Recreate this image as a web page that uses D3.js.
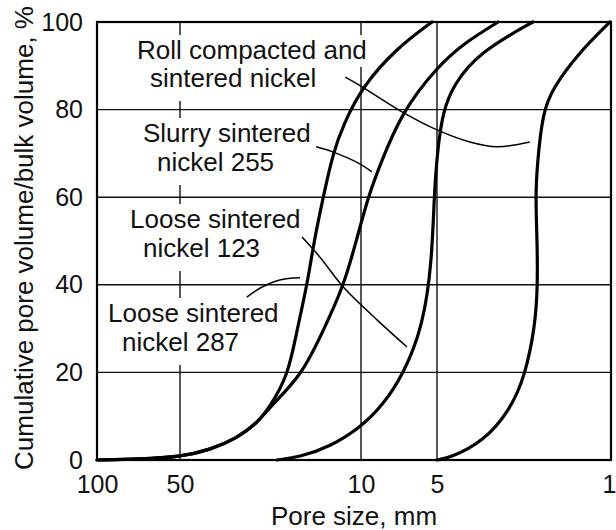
<!DOCTYPE html>
<html lang="en">
<head>
<meta charset="UTF-8">
<title>Cumulative pore volume</title>
<script src="https://d3js.org/d3.v7.min.js"></script>
<style>
  body { margin: 0; background: #fff; }
  svg text { font-family: "Liberation Sans", Arial, Helvetica, sans-serif; fill: #111; }
</style>
</head>
<body>
<script>
// tick values
const xTicks = [100, 50, 10, 5, 1];
const yTicks = [0, 20, 40, 60, 80, 100];

// curves: pore size (mm) and cumulative volume (%)
const loose287Size = [100, 69.8, 50, 38.3, 30.1, 25.2, 22.5, 19.1, 17.7, 16.2, 15.2, 14.0, 12.8, 11.7, 9.91, 7.20, 5.23];
const loose287Vol  = [0, 0.2, 0.7, 2.3, 5.0, 8.4, 12.1, 19.4, 29.5, 39.5, 49.8, 60.0, 70.3, 76.5, 85.2, 94.1, 100];

const slurry255Size = [100, 69.8, 50, 38.3, 30.1, 25.2, 22.5, 16.9, 14.0, 11.7, 10.45, 9.38, 8.41, 6.88, 5.0, 3.89, 2.84];
const slurry255Vol  = [0, 0.2, 0.7, 2.3, 5.0, 8.4, 12.1, 19.4, 29.5, 39.5, 49.8, 60, 67.4, 79.5, 89.7, 95.2, 100];

const loose123Size = [21.1, 17.2, 13.2, 10, 8.18, 6.82, 5.68, 5.23, 5.14, 4.97, 4.73, 4.31, 3.36, 2.06];
const loose123Vol  = [0, 0.7, 3.0, 7.5, 12.6, 19.4, 30.4, 45.7, 60, 71.2, 79.5, 85.6, 93.2, 100];

const rollSize = [5, 4.43, 3.27, 2.54, 2.21, 2.02, 1.97, 1.98, 2.01, 1.98, 1.88, 1.71, 1.37, 1.01];
const rollVol  = [0, 0.5, 4.1, 11.4, 19.4, 30.4, 39.5, 50.2, 60, 67.4, 79.5, 84.9, 92.5, 100];

// leader lines from the labels to their curves
const rollLeaderSize = [11.5, 9.91, 6.88, 4.97, 3.69, 2.87, 2.12];
const rollLeaderVol  = [87.4, 85.2, 79.5, 75.3, 72.6, 71.5, 72.6];
const slurryLeaderSize = [14.9, 12.8, 10.4, 9.05];
const slurryLeaderVol  = [71.5, 70.3, 68.0, 65.8];
const loose123LeaderSize = [16.9, 14.4, 11.7, 8.64, 6.57];
const loose123LeaderVol  = [50.9, 46.3, 39.5, 32.0, 25.8];
const loose287LeaderSize = [27.6, 24.1, 20.6, 17.2];
const loose287LeaderVol  = [37.2, 39.5, 41.1, 41.6];

const labelTexts = [
  ["Roll compacted and", "sintered nickel"],
  ["Slurry sintered", "nickel 255"],
  ["Loose sintered", "nickel 123"],
  ["Loose sintered", "nickel 287"]
];

const width = 616, height = 530;

const svg = d3.select("body").append("svg")
  .attr("width", width)
  .attr("height", height);

// reversed log axis, pieces follow the printed tick spacing
const x = d3.scaleLog().domain(xTicks).range([97, 180, 361, 437, 611]);
const y = d3.scaleLinear().domain([0, 100]).range([460, 22]);

const zip = (a, b) => a.map((v, i) => [v, b[i]]);

// grid
svg.append("g").selectAll("line")
  .data([50, 10, 5])
  .enter().append("line")
  .attr("x1", d => x(d)).attr("x2", d => x(d))
  .attr("y1", y(100)).attr("y2", y(0))
  .attr("stroke", "#111").attr("stroke-width", 1.4);

svg.append("g").selectAll("line")
  .data([20, 40, 60, 80])
  .enter().append("line")
  .attr("x1", x(100)).attr("x2", x(1))
  .attr("y1", d => y(d)).attr("y2", d => y(d))
  .attr("stroke", "#111").attr("stroke-width", 1.4);

// labels (white boxes hide the grid behind them)
const labelPos = [
  [[137, 59], [150, 87]],
  [[143, 142], [157, 171]],
  [[130, 228], [143, 257]],
  [[108, 322], [122, 351]]
];

labelTexts.forEach((lines, i) => {
  const g = svg.append("g");
  lines.forEach((t, j) => {
    const txt = g.append("text")
      .attr("x", labelPos[i][j][0])
      .attr("y", labelPos[i][j][1])
      .attr("font-size", "26px")
      .text(t);
    const b = txt.node().getBBox();
    const extra = j === lines.length - 1 ? 8 : 2;
    g.insert("rect", "text")
      .attr("x", b.x - 4).attr("y", b.y)
      .attr("width", b.width + 8).attr("height", b.height + extra)
      .attr("fill", "#fff");
  });
});

const curve = d3.line()
  .x(d => x(d[0]))
  .y(d => y(d[1]))
  .curve(d3.curveBasis);

const leader = d3.line()
  .x(d => x(d[0]))
  .y(d => y(d[1]))
  .curve(d3.curveCatmullRom.alpha(0.5));

// curves
[[loose287Size, loose287Vol], [slurry255Size, slurry255Vol],
 [loose123Size, loose123Vol], [rollSize, rollVol]].forEach(c => {
  svg.append("path")
    .datum(zip(c[0], c[1]))
    .attr("d", curve)
    .attr("fill", "none")
    .attr("stroke", "#000")
    .attr("stroke-width", 3.2)
    .attr("stroke-linecap", "round");
});

// leaders
[[rollLeaderSize, rollLeaderVol], [slurryLeaderSize, slurryLeaderVol],
 [loose123LeaderSize, loose123LeaderVol], [loose287LeaderSize, loose287LeaderVol]].forEach(c => {
  svg.append("path")
    .datum(zip(c[0], c[1]))
    .attr("d", leader)
    .attr("fill", "none")
    .attr("stroke", "#000")
    .attr("stroke-width", 1.5);
});

// frame
svg.append("rect")
  .attr("x", x(100)).attr("y", y(100))
  .attr("width", x(1) - x(100)).attr("height", y(0) - y(100))
  .attr("fill", "none").attr("stroke", "#000").attr("stroke-width", 2.2);

// axes
const xAxis = svg.append("g")
  .attr("transform", "translate(0," + y(0) + ")")
  .call(d3.axisBottom(x).tickValues(xTicks).tickFormat(d3.format("d")).tickSize(0).tickPadding(15));
xAxis.select(".domain").remove();
xAxis.selectAll("text").attr("font-size", "25px").attr("fill", "#111")
  .attr("font-family", "Liberation Sans, Arial, sans-serif");
// last label sits against the right edge
xAxis.selectAll("text").filter(d => d === 1)
  .attr("text-anchor", "end").attr("dx", width - x(1));

const yAxis = svg.append("g")
  .attr("transform", "translate(" + x(100) + ",0)")
  .call(d3.axisLeft(y).tickValues(yTicks).tickSize(0).tickPadding(14));
yAxis.select(".domain").remove();
yAxis.selectAll("text").attr("font-size", "25px").attr("fill", "#111")
  .attr("font-family", "Liberation Sans, Arial, sans-serif");

// axis titles
svg.append("text")
  .attr("x", (x(100) + x(1)) / 2)
  .attr("y", 525)
  .attr("text-anchor", "middle")
  .attr("font-size", "26px")
  .text("Pore size, mm");

svg.append("text")
  .attr("transform", "translate(33," + 238 + ") rotate(-90)")
  .attr("text-anchor", "middle")
  .attr("font-size", "26px")
  .text("Cumulative pore volume/bulk volume, %");
</script>
</body>
</html>
